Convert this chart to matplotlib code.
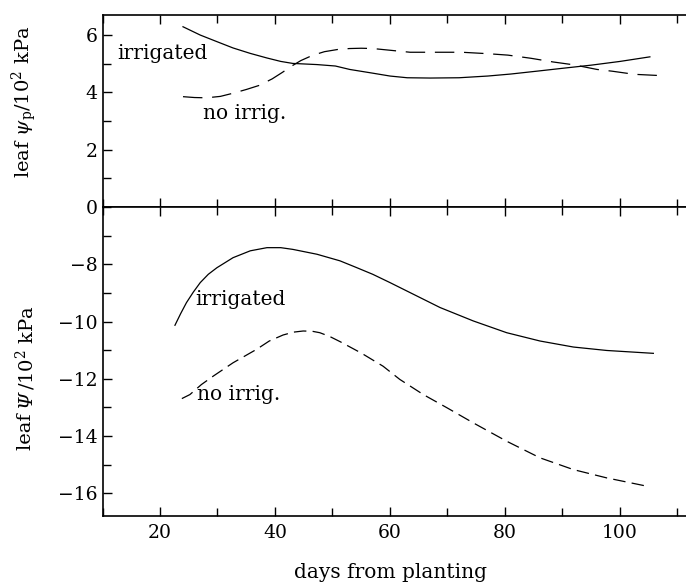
import matplotlib
matplotlib.use("Agg")
import matplotlib.pyplot as plt
from matplotlib.ticker import MultipleLocator, FixedLocator

plt.rcParams['font.family'] = ['DejaVu Serif']
plt.rcParams['mathtext.fontset'] = 'dejavuserif'
plt.rcParams['lines.scale_dashes'] = False
plt.rcParams['axes.unicode_minus'] = True

# ---- data ----
top_irr_x = [24, 27, 29.9, 32.7, 35.7, 38.6, 41, 43.1, 47.3, 50.5, 53, 57, 60, 63, 67, 72, 77, 81, 86, 90, 95, 100, 105.2]
top_irr_y = [6.29, 6.00, 5.77, 5.55, 5.36, 5.20, 5.08, 5.01, 4.97, 4.92, 4.80, 4.67, 4.57, 4.51, 4.50, 4.51, 4.57, 4.64, 4.75, 4.84, 4.95, 5.08, 5.24]

top_dry_x = [24, 26, 28.1, 30.5, 32.7, 35, 37.2, 39.5, 41.3, 43, 44.5, 46.5, 48.6, 51, 53, 55, 57, 60, 63.5, 66, 72.5, 77, 80.5, 84.5, 88.4, 92, 96, 98.6, 102.5, 106.6]
top_dry_y = [3.85, 3.82, 3.81, 3.86, 3.97, 4.10, 4.24, 4.47, 4.70, 4.93, 5.11, 5.29, 5.42, 5.50, 5.53, 5.54, 5.53, 5.47, 5.40, 5.40, 5.40, 5.35, 5.30, 5.19, 5.06, 4.96, 4.80, 4.74, 4.63, 4.59]

bot_irr_x = [22.6, 23.6, 24.6, 25.8, 27, 28.4, 29.9, 32.7, 35.7, 38.6, 41, 43.1, 47.3, 51.3, 54, 57, 60, 62.9, 68.7, 74.5, 80.3, 86.1, 91.9, 97.7, 105.8]
bot_irr_y = [-10.13, -9.72, -9.34, -8.97, -8.64, -8.35, -8.12, -7.77, -7.53, -7.42, -7.42, -7.48, -7.65, -7.88, -8.10, -8.35, -8.64, -8.93, -9.51, -9.98, -10.39, -10.68, -10.89, -11.01, -11.11]

bot_dry_x = [23.8, 25.2, 27.2, 29.3, 32.7, 36.8, 39, 41.4, 43.2, 44.9, 46.5, 47.8, 49.5, 51.3, 55, 58.8, 61.7, 65.8, 69.9, 74.5, 80.3, 86.1, 91.9, 97.7, 100.6, 104.7]
bot_dry_y = [-12.69, -12.55, -12.2, -11.9, -11.44, -10.97, -10.68, -10.47, -10.37, -10.33, -10.34, -10.39, -10.52, -10.70, -11.1, -11.56, -12.02, -12.55, -13.01, -13.54, -14.18, -14.76, -15.17, -15.46, -15.58, -15.75]

x_ticks = [20, 40, 60, 80, 100]
top_yticks = [0, 2, 4, 6]
bot_yticks = [-8, -10, -12, -14, -16]

W, H = 686, 583
fig = plt.figure(figsize=(W / 100, H / 100), dpi=100)

left = 102.5 / W
right = 1.0
ax1 = fig.add_axes([left, 1 - 207 / H, right - left, (207 - 15) / H])
ax2 = fig.add_axes([left, 1 - 516 / H, right - left, (516 - 207) / H])

xlim = (10, 10 + (W - 102.5) / 5.75)
ax1.set_xlim(*xlim)
ax2.set_xlim(*xlim)
ax1.set_ylim(0, 6.7)
ax2.set_ylim(-16.79, -6.0)

lw = 0.9
ax1.plot(top_irr_x, top_irr_y, color='black', lw=lw)
ax1.plot(top_dry_x, top_dry_y, color='black', lw=lw, dashes=(14, 7))
ax2.plot(bot_irr_x, bot_irr_y, color='black', lw=lw)
ax2.plot(bot_dry_x, bot_dry_y, color='black', lw=lw, dashes=(9, 4.5))

fs = 13.5
fs_txt = 14.5
ax1.text(12.5, 5.37, 'irrigated', fontsize=fs_txt, va='center', ha='left')
ax1.text(27.4, 3.28, 'no irrig.', fontsize=fs_txt, va='center', ha='left')
ax2.text(26.2, -9.22, 'irrigated', fontsize=fs_txt, va='center', ha='left')
ax2.text(26.4, -12.55, 'no irrig.', fontsize=fs_txt, va='center', ha='left')

for ax in (ax1, ax2):
    ax.spines['right'].set_visible(False)
    for s in ('left', 'top', 'bottom'):
        ax.spines[s].set_linewidth(1.2)
    ax.xaxis.set_major_locator(FixedLocator(x_ticks))
    ax.xaxis.set_minor_locator(MultipleLocator(10))
    ax.yaxis.set_minor_locator(MultipleLocator(1))
    ax.tick_params(which='both', direction='in', top=True, bottom=True,
                   left=True, right=False, width=1.0, labelsize=fs)
    ax.tick_params(which='major', length=6.5, pad=3.5)
    ax.tick_params(which='minor', length=5.5)

ax1.set_yticks(top_yticks)
ax2.set_yticks(bot_yticks)
ax1.tick_params(axis='x', labelbottom=False)
ax2.tick_params(axis='x', pad=6)

fig.text(391 / W, 1 - 572 / H, 'days from planting', fontsize=fs_txt, ha='center', va='center')
fig.text(24 / W, 1 - 102 / H, r'leaf $\psi_{\mathrm{p}}$/10$^{2}$ kPa', fontsize=14,
         rotation=90, ha='center', va='center')

# bottom y label built from pieces so that the capital psi can be italic
renderer = fig.canvas.get_renderer()
pieces = [('leaf\u00a0', 'normal'), ('Ψ', 'italic'), ('/10$^{2}$ kPa', 'normal')]
xc_px = 24
base_px = H - 377.5  # display coords: y from bottom
texts = []
for s, st in pieces:
    t = fig.text(xc_px / W, 0.5, s, fontsize=14, fontstyle=st, rotation=90,
                 rotation_mode='anchor', ha='left', va='center_baseline')
    texts.append(t)
lengths = [t.get_window_extent(renderer).height for t in texts]
total = sum(lengths)
y = base_px - total / 2
for t, L in zip(texts, lengths):
    t.set_position((xc_px / W, y / H))
    y += L

fig.savefig('out.png', dpi=100)
